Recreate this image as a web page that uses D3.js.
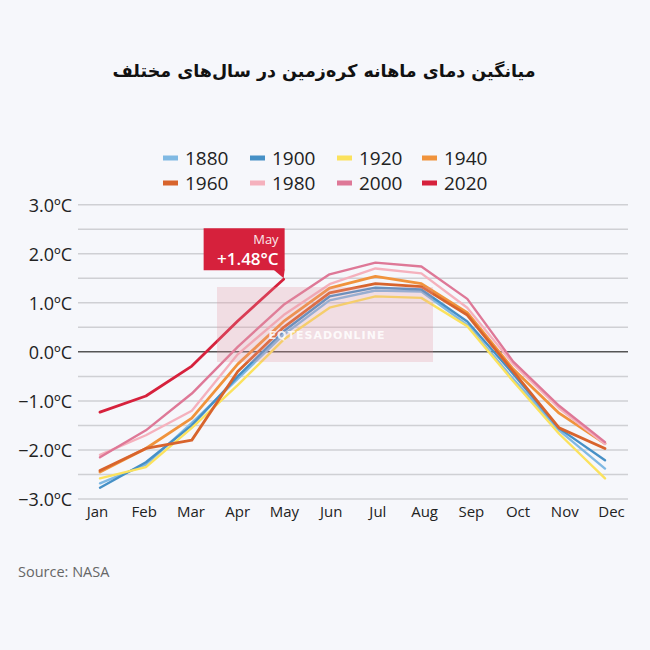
<!DOCTYPE html>
<html><head><meta charset="utf-8">
<script src="https://cdn.jsdelivr.net/npm/d3@7"></script>
<style>
html,body{margin:0;padding:0;background:#f6f7fb;}
svg{display:block;}
</style></head>
<body>
<svg id="chart" width="650" height="650"></svg>
<script>
const months = ["Jan","Feb","Mar","Apr","May","Jun","Jul","Aug","Sep","Oct","Nov","Dec"];
const seriesNames = ["1880","1900","1920","1940","1960","1980","2000","2020"];
const colors = ["#80b9e3","#4690c6","#fbe25d","#f0933c","#d8642d","#f5b1bd","#de7897","#d6213c"];
const y1880 = [-2.68,-2.3,-1.45,-0.55,0.35,1.05,1.25,1.23,0.55,-0.55,-1.6,-2.38];
const y1900 = [-2.77,-2.25,-1.5,-0.5,0.42,1.13,1.31,1.27,0.62,-0.45,-1.56,-2.21];
const y1920 = [-2.58,-2.35,-1.55,-0.68,0.25,0.9,1.13,1.1,0.52,-0.6,-1.67,-2.58];
const y1940 = [-2.45,-1.97,-1.35,-0.25,0.62,1.3,1.54,1.39,0.8,-0.35,-1.25,-1.87];
const y1960 = [-2.42,-1.97,-1.8,-0.4,0.5,1.2,1.39,1.33,0.75,-0.4,-1.55,-1.97];
const y1980 = [-2.1,-1.7,-1.2,-0.05,0.75,1.38,1.7,1.6,0.9,-0.25,-1.15,-1.88];
const y2000 = [-2.15,-1.6,-0.85,0.1,0.96,1.58,1.82,1.74,1.08,-0.2,-1.1,-1.84];
const y2020 = [-1.23,-0.9,-0.29,0.63,1.48];
const yTicks = [3,2,1,0,-1,-2,-3];
const gridTicks = [3,2.5,2,1.5,1,0.5,0,-0.5,-1,-1.5,-2,-2.5,-3];
const title = "میانگین دمای ماهانه کره‌زمین در سال‌های مختلف";
const source = "Source: NASA";
const annoMonth = "May";
const annoValue = "+1.48°C";

const allSeries = [y1880,y1900,y1920,y1940,y1960,y1980,y2000,y2020];

const svg = d3.select("#chart");
svg.append("rect").attr("width",650).attr("height",650).attr("fill","#f6f7fb");

const x = d3.scalePoint().domain(months).range([100,605]);
const xLab = d3.scalePoint().domain(months).range([97,611]);
const y = d3.scaleLinear().domain([-3,3]).range([499,204.7]);

// title
svg.append("text").attr("x",324).attr("y",77).attr("text-anchor","middle")
  .attr("direction","rtl")
  .attr("font-family","DejaVu Sans").attr("font-weight","bold").attr("font-size",17.5)
  .attr("fill","#111").text(title);

// legend
const legend = svg.append("g");
const colX = [163,250,337,422];
seriesNames.forEach((n,i)=>{
  const c = i%4, r = Math.floor(i/4);
  const g = legend.append("g").attr("transform",`translate(${colX[c]},${158+r*25})`);
  g.append("rect").attr("x",0).attr("y",-2.5).attr("width",15).attr("height",5).attr("fill",colors[i]);
  g.append("text").attr("x",22).attr("y",7).attr("font-family","Open Sans").attr("font-size",19)
    .attr("fill","#222").text(n);
});

// grid
svg.append("g").selectAll("line").data(gridTicks).join("line")
  .attr("x1",78).attr("x2",628).attr("y1",d=>y(d)).attr("y2",d=>y(d))
  .attr("stroke",d=>d===0?"#555":"#cfd0d4").attr("stroke-width",1.5);

// y axis labels
const yAxis = d3.axisLeft(y).tickValues(yTicks).tickSize(0).tickPadding(0)
  .tickFormat(d=>d3.format(".1f")(d)+"ºC");
const ya = svg.append("g").attr("transform","translate(72,0)").call(yAxis);
ya.select(".domain").remove();
ya.selectAll("text").attr("font-family","Open Sans").attr("font-size",18).attr("fill","#222").attr("dy","0.35em");

// x axis labels
const xAxis = d3.axisBottom(xLab).tickSize(0).tickPadding(0);
const xa = svg.append("g").attr("transform","translate(0,505)").call(xAxis);
xa.select(".domain").remove();
xa.selectAll("text").attr("font-family","Open Sans").attr("font-size",15).attr("fill","#222").attr("dy","0.8em");

// lines
const line = d3.line().x((d,i)=>x(months[i])).y(d=>y(d));
allSeries.forEach((s,i)=>{
  svg.append("path").datum(s).attr("d",line).attr("fill","none")
    .attr("stroke",colors[i]).attr("stroke-width", (i===7||i===3||i===4)?2.8:2.4)
    .attr("stroke-linejoin","round").attr("stroke-linecap","round");
});

// watermark
const wm = svg.append("g");
wm.append("rect").attr("x",217).attr("y",287).attr("width",216).attr("height",75)
  .attr("fill","#e48f9c").attr("opacity",0.25);
wm.append("text").attr("x",327).attr("y",339).attr("text-anchor","middle")
  .attr("font-family","DejaVu Sans").attr("font-weight","bold").attr("font-size",11)
  .attr("letter-spacing",1).attr("fill","#fff").attr("opacity",0.85).text("EQTESADONLINE");

// annotation
const ax = x(annoMonth), ay = y(y2020[4]);
const anno = svg.append("g");
anno.append("rect").attr("x",ax-80).attr("y",ay-51).attr("width",81).attr("height",42).attr("fill","#d6213c");
anno.append("path").attr("d",`M${ax-10},${ay-9.5} L${ax+1},${ay-9.5} L${ax},${ay-1} Z`).attr("fill","#d6213c");
anno.append("text").attr("x",ax-5).attr("y",ay-35).attr("text-anchor","end")
  .attr("font-family","Open Sans").attr("font-size",13).attr("fill","#fff").attr("opacity",0.9).text(annoMonth);
anno.append("text").attr("x",ax-5).attr("y",ay-14).attr("text-anchor","end")
  .attr("font-family","Open Sans").attr("font-weight",600).attr("font-size",17).attr("fill","#fff").text(annoValue);

// source
svg.append("text").attr("x",18).attr("y",577).attr("font-family","Open Sans").attr("font-size",14.5)
  .attr("fill","#666").text(source);
</script>
</body></html>
